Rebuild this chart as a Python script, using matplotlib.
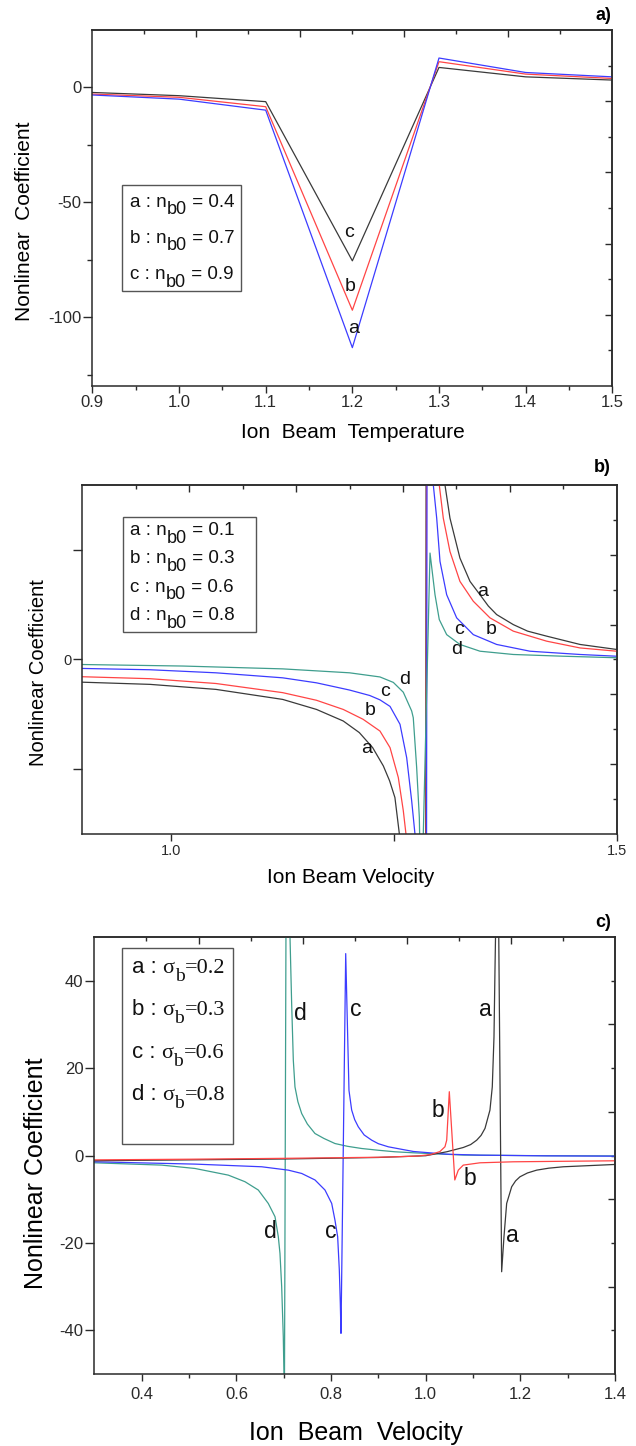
import matplotlib
matplotlib.use("Agg")
import matplotlib.pyplot as plt
from matplotlib.patches import Rectangle
from matplotlib.ticker import FixedLocator, NullFormatter

W, H = 636, 1446
SANS = "Liberation Sans"
SERIF = "Liberation Serif"
plt.rcParams["font.family"] = [SANS, "DejaVu Sans"]

# ---------------- panel a: coefficient vs ion beam temperature ----------------
temp_x = [0.9, 1.0, 1.1, 1.2, 1.3, 1.4, 1.5]
temp_a = [-3.3, -5.1, -9.9, -113.3, 12.8, 6.5, 4.6]    # n_b0 = 0.4
temp_b = [-2.9, -4.3, -8.4, -97.0, 11.2, 5.8, 3.9]     # n_b0 = 0.7
temp_c = [-2.2, -3.6, -6.2, -75.5, 8.7, 4.6, 3.2]      # n_b0 = 0.9
temp_legend = ["0.4", "0.7", "0.9"]

# ---------------- panel b: coefficient vs ion beam velocity (n_b0) ----------
vb_a_x = [0.90, 0.976, 1.050, 1.125, 1.163, 1.193, 1.211, 1.226, 1.238, 1.245,
          1.251, 1.256, 1.270, 1.284, 1.2875, 1.3072, 1.3128, 1.3240, 1.3353,
          1.3465, 1.3559, 1.3652, 1.3839, 1.40, 1.4214, 1.4588, 1.50]
vb_a_y = [-1.04, -1.14, -1.37, -1.83, -2.29, -2.82, -3.35, -4.04, -4.88, -5.56,
          -6.33, -8.0, -18.0, -60.0, 60.0, 8.0, 6.48, 4.65, 3.58,
          2.97, 2.45, 2.06, 1.60, 1.30, 1.07, 0.69, 0.46]
vb_b_x = [0.90, 0.976, 1.050, 1.125, 1.163, 1.193, 1.2152, 1.2342, 1.2455,
          1.2548, 1.2604, 1.2634, 1.275, 1.2845, 1.288, 1.3008, 1.3053, 1.3128,
          1.3240, 1.3390, 1.3577, 1.3839, 1.4214, 1.4588, 1.50]
vb_b_y = [-0.79, -0.88, -1.10, -1.52, -1.87, -2.29, -2.74, -3.28, -4.04,
          -5.41, -6.93, -8.0, -20.0, -60.0, 60.0, 8.0, 6.48, 4.95,
          3.58, 2.67, 1.91, 1.30, 0.84, 0.53, 0.38]
vb_c_x = [0.90, 0.976, 1.050, 1.125, 1.163, 1.200, 1.2227, 1.2342, 1.2455,
          1.2567, 1.2642, 1.2698, 1.2735, 1.280, 1.285, 1.2885, 1.2941, 1.2979,
          1.3016, 1.3091, 1.3203, 1.3390, 1.3652, 1.4026, 1.4588, 1.50]
vb_c_y = [-0.41, -0.47, -0.61, -0.84, -1.07, -1.40, -1.65, -1.85, -2.15,
          -2.97, -4.50, -6.48, -8.0, -20.0, -60.0, 60.0, 8.0, 6.48,
          4.50, 2.97, 1.91, 1.14, 0.69, 0.38, 0.23, 0.15]
vb_d_x = [0.90, 1.013, 1.125, 1.200, 1.2342, 1.2492, 1.2604, 1.2698, 1.2716,
          1.2754, 1.2784, 1.2805, 1.2904, 1.2960, 1.3008, 1.3091, 1.3240,
          1.3465, 1.3839, 1.44, 1.50]
vb_d_y = [-0.23, -0.30, -0.43, -0.61, -0.80, -1.05, -1.50, -2.36, -2.67,
          -4.95, -7.24, -12.0, 4.88, 2.97, 1.83, 1.14, 0.69,
          0.38, 0.23, 0.15, 0.08]
vb_legend = ["0.1", "0.3", "0.6", "0.8"]

# ---------------- panel c: coefficient vs ion beam velocity (sigma_b) --------
vc_a_x = [0.30, 0.50, 0.70, 0.90, 1.00, 1.0444, 1.0794, 1.095, 1.1077, 1.117,
          1.1253, 1.1358, 1.1407, 1.1443, 1.1464, 1.152, 1.1605, 1.1654, 1.1711,
          1.1817, 1.19, 1.1992, 1.215, 1.2345, 1.26, 1.2907, 1.40]
vc_a_y = [-1.2, -1.0, -0.8, -0.45, -0.05, 0.85, 1.83, 2.5, 3.5, 4.6,
          6.2, 10.4, 15.7, 27.1, 42.4, 80.0, -26.6, -18.6, -10.97,
          -7.15, -5.8, -4.87, -4.0, -3.35, -2.9, -2.58, -2.05]
vc_b_x = [0.30, 0.50, 0.70, 0.90, 0.98, 1.01, 1.03, 1.0407, 1.0444, 1.0499,
          1.0615, 1.0689, 1.0794, 1.1147, 1.185, 1.40]
vc_b_y = [-1.0, -0.85, -0.65, -0.4, -0.15, 0.2, 0.9, 2.0, 3.5, 14.6,
          -5.6, -3.35, -2.2, -1.67, -1.44, -1.21]
vc_c_x = [0.30, 0.5126, 0.6535, 0.7097, 0.738, 0.7661, 0.7872, 0.8014, 0.8083,
          0.814, 0.8175, 0.8196, 0.821, 0.831, 0.8352, 0.8379, 0.8436, 0.850,
          0.8576, 0.870, 0.8859, 0.900, 0.921, 0.95, 0.974, 1.0444, 1.1147,
          1.2556, 1.40]
vc_c_y = [-1.44, -1.97, -2.58, -3.35, -4.11, -5.6, -7.9, -10.97, -14.8,
          -18.6, -26.2, -33.8, -40.7, 46.2, 27.1, 14.9, 10.4, 8.2,
          6.56, 4.7, 3.51, 2.7, 1.99, 1.4, 0.92, 0.3, 0.08,
          -0.08, -0.15]
vc_d_x = [0.30, 0.4422, 0.5126, 0.5829, 0.6182, 0.6463, 0.6674, 0.6816, 0.6886,
          0.6921, 0.6957, 0.6991, 0.7015, 0.7055, 0.7133, 0.7168, 0.7203,
          0.7238, 0.730, 0.738, 0.750, 0.7661, 0.785, 0.8083, 0.835, 0.8648,
          0.90, 0.9351, 0.9738, 1.0794, 1.25, 1.40]
vc_d_y = [-1.67, -2.2, -2.97, -4.49, -6.0, -7.9, -10.97, -14.0, -18.6,
          -22.4, -30.0, -41.4, -56.0, 75.0, 50.0, 34.7, 21.8,
          15.7, 12.3, 9.6, 7.2, 5.03, 3.9, 2.74, 2.1, 1.6,
          1.2, 0.85, 0.62, 0.1, -0.05, -0.1]
vc_legend = ["0.2", "0.3", "0.6", "0.8"]

BLACK = "#3a3a3a"
RED = "#ff4545"
BLUE = "#3c3cff"
TEAL = "#3f9e8e"
SPINE = "#2a2a2a"
LW = 0.9

fig = plt.figure(figsize=(W / 100, H / 100), dpi=100)


def px_rect(l, r, t, b):
    return [l / W, 1 - b / H, (r - l) / W, (b - t) / H]


def fpos(X, Y):
    return X / W, 1 - Y / H


def frame(ax, xlim, ylim):
    ax.set_xlim(*xlim)
    ax.set_ylim(*ylim)
    for s in ax.spines.values():
        s.set_linewidth(1.1)
        s.set_color(SPINE)
    ax.tick_params(top=False, right=False, which="both", colors=SPINE)
    x0, x1 = xlim
    y0, y1 = ylim
    sx = ax.secondary_xaxis("top")
    sx.xaxis.set_major_locator(FixedLocator([x0 + i * (x1 - x0) / 10 for i in (2, 4, 6, 8)]))
    sx.xaxis.set_minor_locator(FixedLocator([x0 + i * (x1 - x0) / 10 for i in (1, 3, 5, 7, 9)]))
    sx.xaxis.set_major_formatter(NullFormatter())
    sx.tick_params(which="major", direction="in", length=4.8, width=1.0, color=SPINE)
    sx.tick_params(which="minor", direction="in", length=3.0, width=1.0, color=SPINE)
    sy = ax.secondary_yaxis("right")
    sy.yaxis.set_major_locator(FixedLocator([y0 + i * (y1 - y0) / 10 for i in (2, 4, 6, 8)]))
    sy.yaxis.set_minor_locator(FixedLocator([y0 + i * (y1 - y0) / 10 for i in (1, 3, 5, 7, 9)]))
    sy.yaxis.set_major_formatter(NullFormatter())
    sy.tick_params(which="major", direction="in", length=4.8, width=1.0, color=SPINE)
    sy.tick_params(which="minor", direction="in", length=3.0, width=1.0, color=SPINE)
    for sec in (sx, sy):
        for s in sec.spines.values():
            s.set_linewidth(1.1)
            s.set_color(SPINE)


def legend_box(X0, X1, Y0, Y1):
    x0, y0 = fpos(X0, Y1)
    x1, y1 = fpos(X1, Y0)
    fig.patches.append(Rectangle((x0, y0), x1 - x0, y1 - y0, transform=fig.transFigure,
                                 fill=False, edgecolor="#555555", linewidth=1.0, zorder=5))


def compose(ax, X, Y, pieces):
    """Write text pieces side by side on one baseline; each piece is
    (text, size, family, dy_points, gap_points)."""
    first = None
    prev = None
    for txt, size, fam, dy, gap in pieces:
        if first is None:
            t = ax.annotate(txt, xy=fpos(X, Y), xycoords="figure fraction",
                            fontsize=size, family=fam, ha="left", va="baseline",
                            color="#111111", annotation_clip=False)
            first = t
        else:
            t = ax.annotate(txt, xy=(1, 0), xycoords=(prev, first),
                            xytext=(gap, dy), textcoords="offset points",
                            fontsize=size, family=fam, ha="left", va="bottom",
                            color="#111111", annotation_clip=False)
        prev = t


# ================================ panel a ================================
axa = fig.add_axes(px_rect(92.4, 612.3, 30, 386))
frame(axa, (0.9, 1.5), (-130, 25))
axa.plot(temp_x, temp_c, color=BLACK, lw=LW)
axa.plot(temp_x, temp_b, color=RED, lw=LW)
axa.plot(temp_x, temp_a, color=BLUE, lw=LW)
axa.set_xticks([0.9, 1.0, 1.1, 1.2, 1.3, 1.4, 1.5],
               labels=["0.9", "1.0", "1.1", "1.2", "1.3", "1.4", "1.5"])
axa.set_xticks([0.95, 1.05, 1.15, 1.25, 1.35, 1.45], minor=True)
axa.set_yticks([0, -50, -100], labels=["0", "-50", "-100"])
axa.set_yticks([-25, -75, -125], minor=True)
axa.tick_params(axis="x", which="major", length=5, width=1.0, pad=1.2, labelsize=12)
axa.tick_params(axis="x", which="minor", length=2.6, width=1.0)
axa.tick_params(axis="y", which="major", length=6.5, width=1.0, pad=1.5, labelsize=12)
axa.tick_params(axis="y", which="minor", length=3.5, width=1.0)
for lab, (lx, ly) in zip(["c", "b", "a"], [(1.1957, -63), (1.198, -86.7), (1.2013, -105)]):
    axa.text(lx, ly, lab, fontsize=14, ha="center", va="center", color="#111111")
legend_box(121.6, 241.2, 185, 291)
for lab, val, base in zip(["a", "b", "c"], temp_legend, [206.7, 242.7, 279.3]):
    compose(axa, 129.7, base, [(f"{lab} : n", 13.5, SANS, 0, 0),
                               ("b0", 13.0, SANS, -5.5, 0.3),
                               (f" = {val}", 13.5, SANS, 0, 0.3)])
fig.text(*fpos(611, 15), "a)", fontsize=13, fontweight="bold", ha="right", va="center")
fig.text(*fpos(25, 221), "Nonlinear  Coefficient", fontsize=15, rotation=90,
         ha="center", va="center")
fig.text(*fpos(352.6, 432), "Ion  Beam  Temperature", fontsize=15, ha="center", va="center")

# ================================ panel b ================================
axb = fig.add_axes(px_rect(82.3, 616.7, 485, 834))
frame(axb, (0.9, 1.5), (-8, 8))
axb.plot(vb_a_x, vb_a_y, color=BLACK, lw=LW)
axb.plot(vb_b_x, vb_b_y, color=RED, lw=LW)
axb.plot(vb_c_x, vb_c_y, color=BLUE, lw=LW)
axb.plot(vb_d_x, vb_d_y, color=TEAL, lw=LW)
axb.set_xticks([1.0, 1.25, 1.5], labels=["1.0", "", "1.5"])
axb.set_yticks([-5, 0, 5], labels=["", "0", ""])
axb.tick_params(axis="x", which="major", length=5, width=1.0, pad=2.2, labelsize=10.5)
axb.tick_params(axis="y", which="major", length=6.5, width=1.0, pad=1.5, labelsize=10.5)
for lab, (lx, ly) in zip(["a", "b", "c", "d"],
                         [(1.2187, -4.07), (1.2226, -2.36), (1.2395, -1.45), (1.2619, -0.91)]):
    axb.text(lx, ly, lab, fontsize=14, ha="center", va="center", color="#111111")
for lab, (lx, ly) in zip(["a", "b", "c", "d"],
                         [(1.350, 3.12), (1.3595, 1.37), (1.3233, 1.37), (1.3203, 0.46)]):
    axb.text(lx, ly, lab, fontsize=14, ha="center", va="center", color="#111111")
legend_box(123, 255.7, 516.7, 631.7)
for lab, val, base in zip(["a", "b", "c", "d"], vb_legend, [535, 563.3, 591.7, 620]):
    compose(axb, 129.7, base, [(f"{lab} : n", 13.5, SANS, 0, 0),
                               ("b0", 13.0, SANS, -5.5, 0.3),
                               (f" = {val}", 13.5, SANS, 0, 0.3)])
fig.text(*fpos(611, 467), "b)", fontsize=13, fontweight="bold", ha="right", va="center")
fig.text(*fpos(38.5, 673), "Nonlinear Coefficient", fontsize=14.5, rotation=90,
         ha="center", va="center")
fig.text(*fpos(350.6, 878), "Ion Beam Velocity", fontsize=15, ha="center", va="center")

# ================================ panel c ================================
axc = fig.add_axes(px_rect(94.4, 615, 937, 1374))
frame(axc, (0.3, 1.4), (-50, 50))
axc.plot(vc_d_x, vc_d_y, color=TEAL, lw=LW)
axc.plot(vc_c_x, vc_c_y, color=BLUE, lw=LW)
axc.plot(vc_a_x, vc_a_y, color=BLACK, lw=LW)
axc.plot(vc_b_x, vc_b_y, color=RED, lw=LW)
axc.set_xticks([0.4, 0.6, 0.8, 1.0, 1.2, 1.4],
               labels=["0.4", "0.6", "0.8", "1.0", "1.2", "1.4"])
axc.set_xticks([0.5, 0.7, 0.9, 1.1, 1.3], minor=True)
axc.set_yticks([40, 20, 0, -20, -40], labels=["40", "20", "0", "-20", "-40"])
axc.tick_params(axis="x", which="major", length=5, width=1.0, pad=4.2, labelsize=12)
axc.tick_params(axis="x", which="minor", length=2.6, width=1.0)
axc.tick_params(axis="y", which="major", length=6.5, width=1.0, pad=1.5, labelsize=12)
for lab, (lx, ly) in zip(["d", "c", "a", "b", "b", "d", "c", "a"],
                         [(0.7344, 32.5), (0.8525, 33.3), (1.1257, 33.5), (1.0255, 10.4),
                          (1.094, -5.2), (0.6727, -17.4), (0.7986, -17.4), (1.184, -18.4)]):
    axc.text(lx, ly, lab, fontsize=16.5, ha="center", va="center", color="#111111")
legend_box(121.6, 233, 947.7, 1144)
for lab, val, base in zip(["a", "b", "c", "d"], vc_legend, [973.3, 1015, 1058.3, 1100]):
    compose(axc, 131.7, base, [(f"{lab} : ", 16, SANS, 0, 0),
                               ("\u03c3", 16, SERIF, 0, 0),
                               ("b", 14, SERIF, -5, 0),
                               ("=" + val, 16, SERIF, 0, 0.5)])
fig.text(*fpos(611, 923), "c)", fontsize=13, fontweight="bold", ha="right", va="center")
fig.text(*fpos(36.5, 1173), "Nonlinear Coefficient", fontsize=18, rotation=90,
         ha="center", va="center")
fig.text(*fpos(355.5, 1433), "Ion  Beam  Velocity", fontsize=18, ha="center", va="center")

fig.savefig("out.png", dpi=100)
